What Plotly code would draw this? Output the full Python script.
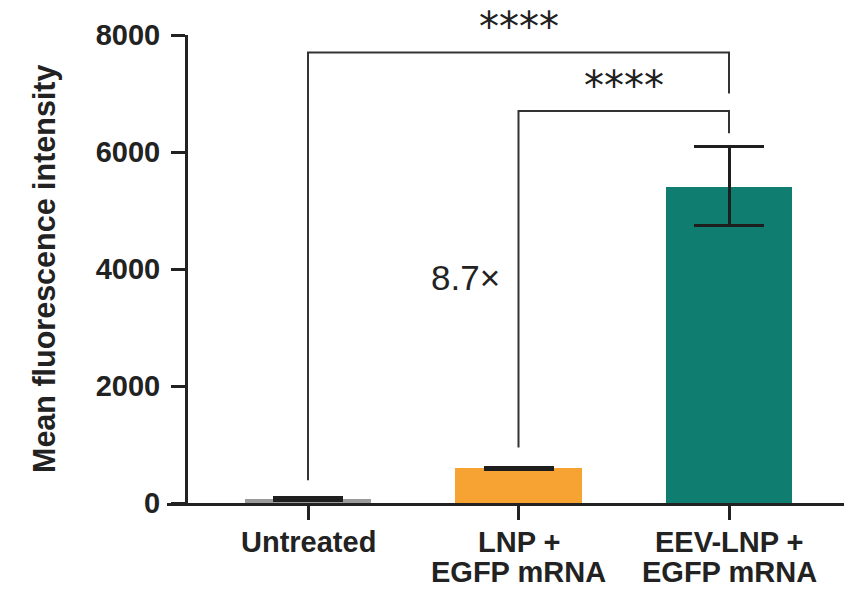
import plotly.graph_objects as go

categories = ["Untreated", "LNP +<br>EGFP mRNA", "EEV-LNP +<br>EGFP mRNA"]
means = [75, 590, 5400]
err_plus = [25, 20, 700]
err_minus = [25, 20, 650]
bar_colors = ["#9b9b9b", "#f6a334", "#0f7d70"]

# significance brackets
bracket_outer = dict(x=[0, 0, 2, 2], y=[390, 7700, 7700, 7000])
bracket_inner = dict(x=[1, 1, 2, 2], y=[950, 6700, 6700, 6320])
stars_labels = [("****", 1.0, 8137), ("****", 1.5, 7120)]
fold_label = ("8.7×", 0.75, 3850)

y_ticks = [0, 2000, 4000, 6000, 8000]
y_max = 8000
y_title = "Mean fluorescence intensity"

x_pos = list(range(len(categories)))

FONT = "Liberation Sans, Arial, Helvetica, sans-serif"
INK = "#222222"

fig = go.Figure()
fig.add_trace(go.Bar(
    x=x_pos, y=means, width=0.6,
    marker=dict(color=bar_colors, line=dict(width=0)),
    error_y=dict(type="data", symmetric=False, array=err_plus, arrayminus=err_minus,
                 color="#1e1e1e", thickness=3, width=35),
    showlegend=False, hoverinfo="skip",
))
for br in (bracket_outer, bracket_inner):
    fig.add_trace(go.Scatter(
        x=br["x"], y=br["y"], mode="lines",
        line=dict(color="#333333", width=2), showlegend=False, hoverinfo="skip",
        cliponaxis=False,
    ))

for txt, xx, yy in stars_labels:
    fig.add_annotation(x=xx, y=yy / y_max, yref="paper", text=txt, showarrow=False,
                       font=dict(family="DejaVu Sans", size=40, color=INK),
                       xanchor="center", yanchor="middle")
fig.add_annotation(x=fold_label[1], y=fold_label[2], text=fold_label[0], showarrow=False,
                   font=dict(family=FONT, size=35, color=INK),
                   xanchor="center", yanchor="middle")

# category labels (tight line spacing as in the reference)
line_y = [-0.0823, -0.1485]
for xi, cat in zip(x_pos, categories):
    for li, part in enumerate(cat.split("<br>")):
        fig.add_annotation(x=xi, y=line_y[li], yref="paper", text=part, showarrow=False,
                           font=dict(family=FONT, size=29, color=INK, weight="bold"),
                           xanchor="center", yanchor="middle")

plot_left = 167
plot_w = 844 - plot_left

# y-axis title
fig.add_annotation(x=(44 - plot_left) / plot_w, y=0.5, xref="paper", yref="paper",
                   text=y_title, textangle=-90, showarrow=False,
                   font=dict(family=FONT, size=30.5, color=INK, weight="bold"),
                   xanchor="center", yanchor="middle")

fig.update_layout(
    width=844, height=592,
    margin=dict(l=plot_left, r=0, t=35, b=89),
    plot_bgcolor="white", paper_bgcolor="white",
    bargap=0,
    xaxis=dict(
        range=[(167 - 308) / 210.5, (844 - 308) / 210.5],
        tickvals=x_pos, showticklabels=False,
        showline=True, linecolor=INK, linewidth=3,
        ticks="outside", ticklen=14, tickwidth=3, tickcolor=INK,
        showgrid=False, zeroline=False, fixedrange=True,
    ),
    yaxis=dict(
        range=[0, y_max], tickvals=y_ticks,
        anchor="free", position=(186 - plot_left) / plot_w,
        showline=True, linecolor=INK, linewidth=3,
        ticks="outside", ticklen=14, tickwidth=3, tickcolor=INK,
        ticklabelstandoff=5,
        tickfont=dict(family=FONT, size=29, color=INK, weight="bold"),
        showgrid=False, zeroline=False, fixedrange=True,
    ),
)

fig.write_html("out.html")
